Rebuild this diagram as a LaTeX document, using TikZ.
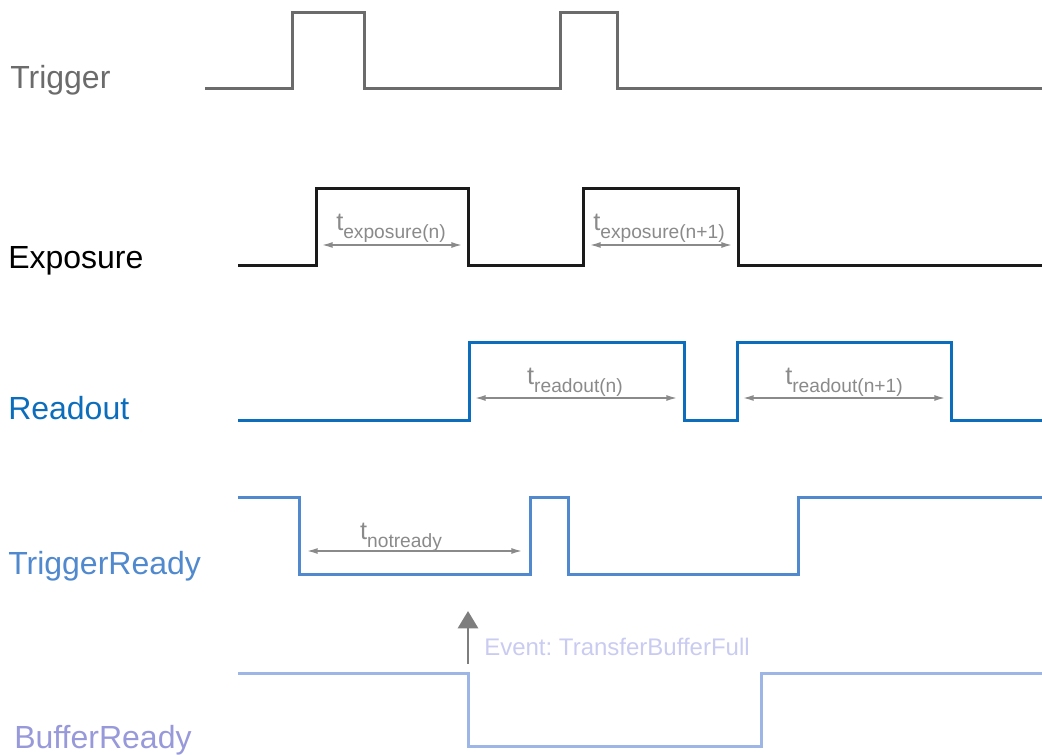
\documentclass[tikz,border=0pt]{standalone}
\usepackage{fontspec}
\setmainfont{Liberation Sans}
\usetikzlibrary{arrows.meta}
\frenchspacing
\definecolor{cTrig}{HTML}{6B6B6B}
\definecolor{cExp}{HTML}{1A1A1A}
\definecolor{cRead}{HTML}{0B6DBB}
\definecolor{cTR}{HTML}{5089CE}
\definecolor{cBR}{HTML}{9DB6E6}
\definecolor{cBRtxt}{HTML}{9899DA}
\definecolor{cDim}{HTML}{8A8A8A}
\definecolor{cEvt}{HTML}{C9CBF1}
\definecolor{cEvArr}{HTML}{7E7E7E}
\tikzset{
  wave/.style={line width=2.25pt, line join=miter},
  siglabel/.style={anchor=base west, inner sep=0pt, font=\fontsize{24pt}{28pt}\selectfont},
  dimarrow/.style={cDim, line width=1.1pt, {Latex[length=8pt,width=4.5pt]}-{Latex[length=8pt,width=4.5pt]}},
  dimlabel/.style={anchor=base, inner sep=0pt, text=cDim},
}
\newcommand{\tlab}[1]{{\fontsize{19pt}{22pt}\selectfont t}{\fontsize{14.4pt}{16pt}\selectfont\raisebox{-6pt}{#1}}}
\begin{document}
\begin{tikzpicture}[x=0.75pt,y=-0.75pt]
\useasboundingbox (0,0) rectangle (1042,755);
% waveforms
\draw[wave,cTrig] (205,89) -- (292,89) -- (292,13) -- (364,13) -- (364,89) -- (560,89) -- (560,13) -- (617,13) -- (617,89) -- (1042,89);
\draw[wave,cExp] (238,266) -- (316,266) -- (316,189) -- (468,189) -- (468,266) -- (583,266) -- (583,189) -- (738,189) -- (738,266) -- (1042,266);
\draw[wave,cRead] (238,420) -- (469,420) -- (469,343) -- (684,343) -- (684,420) -- (737,420) -- (737,343) -- (951,343) -- (951,420) -- (1042,420);
\draw[wave,cTR] (238,497) -- (299,497) -- (299,574) -- (530,574) -- (530,497) -- (568,497) -- (568,574) -- (798,574) -- (798,497) -- (1042,497);
\draw[wave,cBR] (238,673) -- (468,673) -- (468,746) -- (761,746) -- (761,673) -- (1042,673);
% signal labels
\node[siglabel, text=cTrig] (lTrig) at (10,89) {Trigger};
\node[siglabel, text=black] (lExp) at (8,269) {Exposure};
\node[siglabel, text=cRead] (lRead) at (8,420) {Readout};
\node[siglabel, text=cTR] (lTR) at (8,574) {TriggerReady};
\node[siglabel, text=cBRtxt] (lBR) at (14,748) {BufferReady};
% dimension arrows
\coordinate (e1a) at (322,245); \coordinate (e1b) at (462,245);
\coordinate (e2a) at (590,245); \coordinate (e2b) at (732,245);
\coordinate (r1a) at (475,398); \coordinate (r1b) at (677,398);
\coordinate (r2a) at (743,398); \coordinate (r2b) at (945,398);
\coordinate (na) at (307,551); \coordinate (nb) at (522,551);
\draw[dimarrow] (e1a) -- (e1b);
\draw[dimarrow] (e2a) -- (e2b);
\draw[dimarrow] (r1a) -- (r1b);
\draw[dimarrow] (r2a) -- (r2b);
\draw[dimarrow] (na) -- (nb);
\node[dimlabel] (te1) at (391,231) {\tlab{exposure(n)}};
\node[dimlabel] (te2) at (659,231) {\tlab{exposure(n+1)}};
\node[dimlabel] (tr1) at (575,384) {\tlab{readout(n)}};
\node[dimlabel] (tr2) at (844,384) {\tlab{readout(n+1)}};
\node[dimlabel] (tn) at (401,539) {\tlab{notready}};
% event
\coordinate (evs) at (468,664);
\coordinate (evt) at (468,611);
\draw[cEvArr, line width=2.2pt, -{Triangle[length=13pt,width=15pt]}] (evs) -- (evt);
\node[anchor=base west, inner sep=0pt, text=cEvt, font=\fontsize{18pt}{21pt}\selectfont] (evl) at (484,655) {Event: TransferBufferFull};
\end{tikzpicture}
\end{document}
